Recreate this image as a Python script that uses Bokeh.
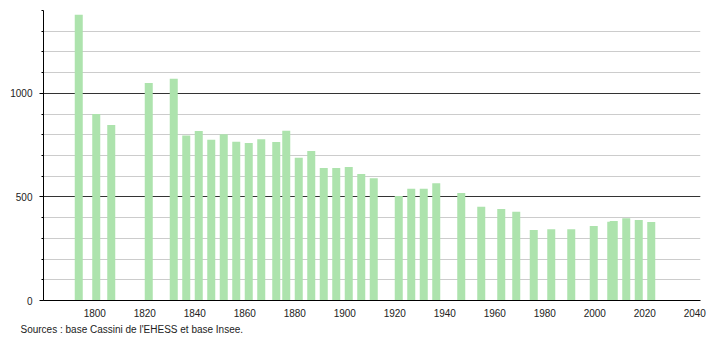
from bokeh.plotting import figure
from bokeh.models import ColumnDataSource, SingleIntervalTicker, FixedTicker, Title, Range1d
from bokeh.transform import dodge
from bokeh.embed import file_html
from bokeh.resources import INLINE

years = [1793, 1800, 1806, 1821, 1831, 1836, 1841, 1846, 1851, 1856, 1861, 1866,
         1872, 1876, 1881, 1886, 1891, 1896, 1901, 1906, 1911, 1921, 1926, 1931,
         1936, 1946, 1954, 1962, 1968, 1975, 1982, 1990, 1999, 2006, 2007, 2012,
         2017, 2022]
population = [1379, 900, 847, 1050, 1070, 797, 818, 776, 803, 766, 760, 779,
              765, 820, 689, 722, 640, 640, 644, 611, 590, 505, 539, 539,
              566, 519, 452, 442, 429, 340, 344, 344, 360, 380, 384, 397,
              389, 379]
x_ticks = [1800, 1820, 1840, 1860, 1880, 1900, 1920, 1940, 1960, 1980, 2000, 2020, 2040]
source_text = "Sources : base Cassini de l'EHESS et base Insee."

src = ColumnDataSource(data=dict(year=years, pop=population))

p = figure(width=710, height=340, output_backend="svg", toolbar_location=None,
           x_range=Range1d(1779.5, 2042.3), y_range=Range1d(0, 1400),
           min_border_left=43, min_border_right=10, min_border_top=10,
           min_border_bottom=40)
p.outline_line_color = None
p.background_fill_color = "white"
p.border_fill_color = "white"

p.vbar(x=dodge("year", 0.6), top="pop", width=3.2, source=src,
       fill_color="#ade3ad", line_color=None)

# Y axis
yt = SingleIntervalTicker(interval=500, num_minor_ticks=5)
p.yaxis.ticker = yt
p.ygrid.ticker = yt
p.ygrid.grid_line_color = "#333333"
p.ygrid.grid_line_width = 1
p.ygrid.minor_grid_line_color = "#cccccc"
p.ygrid.minor_grid_line_width = 1
p.xgrid.grid_line_color = None
p.yaxis.axis_line_color = "black"
p.yaxis.major_tick_out = 4
p.yaxis.major_tick_in = 0
p.yaxis.minor_tick_out = 2
p.yaxis.minor_tick_in = 0
p.yaxis.major_tick_line_color = "black"
p.yaxis.minor_tick_line_color = "black"
p.yaxis.major_label_standoff = 7
p.yaxis.major_label_text_font = "Liberation Sans"
p.yaxis.major_label_text_font_size = "10px"
p.yaxis.major_label_text_color = "#222222"

# X axis
p.xaxis.ticker = FixedTicker(ticks=x_ticks)
p.xaxis.axis_line_color = "black"
p.xaxis.major_tick_out = 0
p.xaxis.major_tick_in = 0
p.xaxis.minor_tick_out = 0
p.xaxis.minor_tick_in = 0
p.xaxis.major_label_standoff = 8
p.xaxis.major_label_text_font = "Liberation Sans"
p.xaxis.major_label_text_font_size = "10px"
p.xaxis.major_label_text_color = "#222222"

t = Title(text=source_text, align="left", offset=-23, standoff=4,
          text_font="Liberation Sans", text_font_size="10px",
          text_font_style="normal", text_color="#222222")
p.add_layout(t, "below")

open("out.html", "w").write(file_html(p, INLINE))
